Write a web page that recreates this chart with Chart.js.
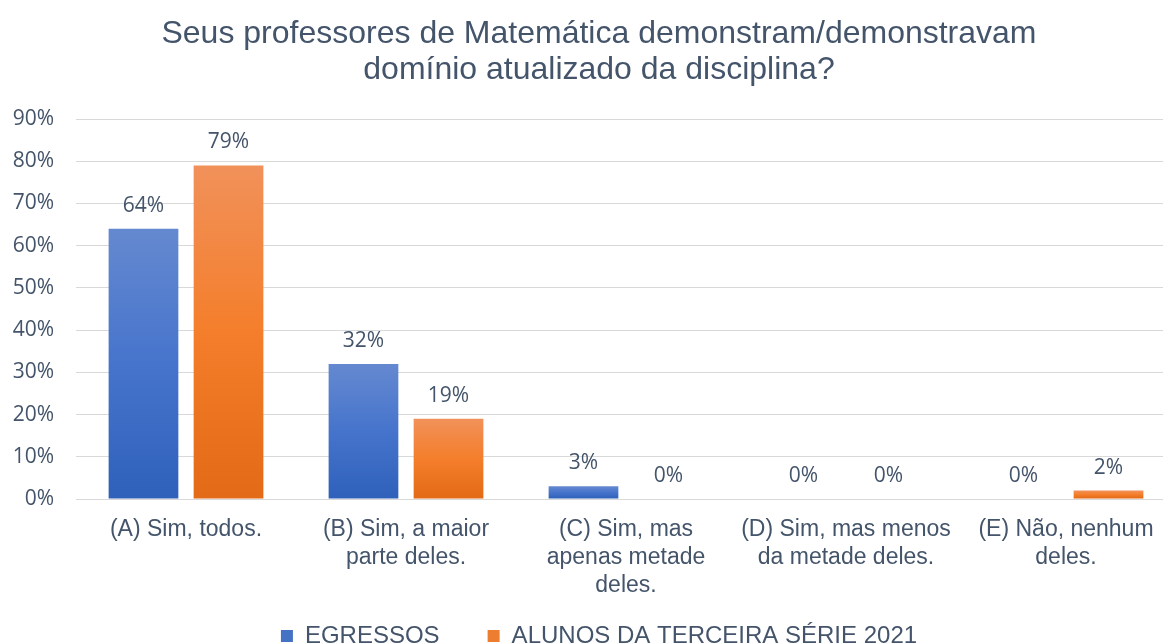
<!DOCTYPE html>
<html>
<head>
<meta charset="utf-8">
<script src="https://cdn.jsdelivr.net/npm/chart.js@4/dist/chart.umd.min.js"></script>
<style>
  html, body { margin: 0; padding: 0; background: #fff; overflow: hidden; }
  #wrap { width: 1198px; height: 658px; }
</style>
</head>
<body>
<div id="wrap"><canvas id="chart" width="1198" height="658"></canvas></div>
<script>
const categories = [
  '(A) Sim, todos.',
  ['(B) Sim, a maior', 'parte deles.'],
  ['(C) Sim, mas', 'apenas metade', 'deles.'],
  ['(D) Sim, mas menos', 'da metade deles.'],
  ['(E) Não, nenhum', 'deles.']
];
const egressos = [64, 32, 3, 0, 0];
const alunos = [79, 19, 0, 0, 2];
const yTicks = [0, 10, 20, 30, 40, 50, 60, 70, 80, 90];

const textColor = '#44546A';
const arial = '"Liberation Sans", Arial, sans-serif';

// gradiente vertical em cada barra (estilo Excel)
const gradStops = [
  ['#6589D0', '#4674CC', '#2F61BA'],
  ['#F1915A', '#F47E2B', '#E36A17']
];

const barGradient = {
  id: 'barGradient',
  beforeDatasetsDraw(chart) {
    const ctx = chart.ctx;
    chart.data.datasets.forEach((ds, i) => {
      const meta = chart.getDatasetMeta(i);
      meta.data.forEach(bar => {
        const top = Math.min(bar.y, bar.base);
        const bottom = Math.max(bar.y, bar.base);
        if (bottom - top < 1) return;
        const g = ctx.createLinearGradient(0, top, 0, bottom);
        g.addColorStop(0, gradStops[i][0]);
        g.addColorStop(0.5, gradStops[i][1]);
        g.addColorStop(1, gradStops[i][2]);
        bar.options = Object.assign({}, bar.options, { backgroundColor: g });
      });
    });
  }
};

// rótulos de dados acima das barras
const dataLabels = {
  id: 'dataLabels',
  afterDatasetsDraw(chart) {
    const ctx = chart.ctx;
    ctx.save();
    ctx.font = '21px "Open Sans"';
    ctx.fillStyle = textColor;
    ctx.textAlign = 'center';
    ctx.textBaseline = 'middle';
    chart.data.datasets.forEach((ds, i) => {
      chart.getDatasetMeta(i).data.forEach((bar, j) => {
        ctx.fillText(ds.data[j] + '%', bar.x, bar.y - 23);
      });
    });
    ctx.restore();
  }
};

// deixa os rótulos dos eixos sair da caixa do eixo (sem recorte)
const unclipLabels = {
  id: 'unclipLabels',
  afterLayout(chart) {
    chart.scales.y.left = 0;
    chart.scales.x.bottom = chart.height;
  }
};

new Chart(document.getElementById('chart'), {
  type: 'bar',
  data: {
    labels: categories,
    datasets: [
      { label: 'EGRESSOS', data: egressos, backgroundColor: '#4472C4',
        categoryPercentage: 0.773, barPercentage: 0.82 },
      { label: 'ALUNOS DA TERCEIRA SÉRIE 2021', data: alunos, backgroundColor: '#ED7D31',
        categoryPercentage: 0.773, barPercentage: 0.82 }
    ]
  },
  options: {
    responsive: false,
    animation: false,
    layout: { padding: { left: 22, right: 22, top: 0, bottom: 0 } },
    plugins: {
      title: {
        display: true,
        text: ['Seus professores de Matemática demonstram/demonstravam', 'domínio atualizado da disciplina?'],
        color: textColor,
        font: { family: arial, size: 32, weight: 'normal', lineHeight: 1.1 },
        padding: { top: 17, bottom: 31.6 }
      },
      legend: {
        position: 'bottom',
        labels: {
          color: textColor,
          font: { family: arial, size: 24 },
          boxWidth: 12,
          boxHeight: 12,
          padding: 48
        }
      },
      tooltip: { enabled: false }
    },
    scales: {
      x: {
        grid: { display: false },
        border: { display: false },
        ticks: {
          color: textColor,
          font: { family: arial, size: 23, lineHeight: 1.22 },
          padding: 9,
          maxRotation: 0,
          autoSkip: false
        },
        afterFit(scale) { scale.height = 77; }
      },
      y: {
        min: 0,
        max: 90,
        afterBuildTicks(scale) { scale.ticks = yTicks.map(v => ({ value: v })); },
        grid: { color: '#D9D9D9', lineWidth: 1, drawTicks: false },
        border: { display: false },
        ticks: {
          color: textColor,
          font: { family: '"Open Sans", sans-serif', size: 21 },
          padding: 22,
          callback: v => v + '%'
        },
        afterFit(scale) { scale.width = 54; }
      }
    }
  },
  plugins: [barGradient, dataLabels, unclipLabels]
});
</script>
</body>
</html>
